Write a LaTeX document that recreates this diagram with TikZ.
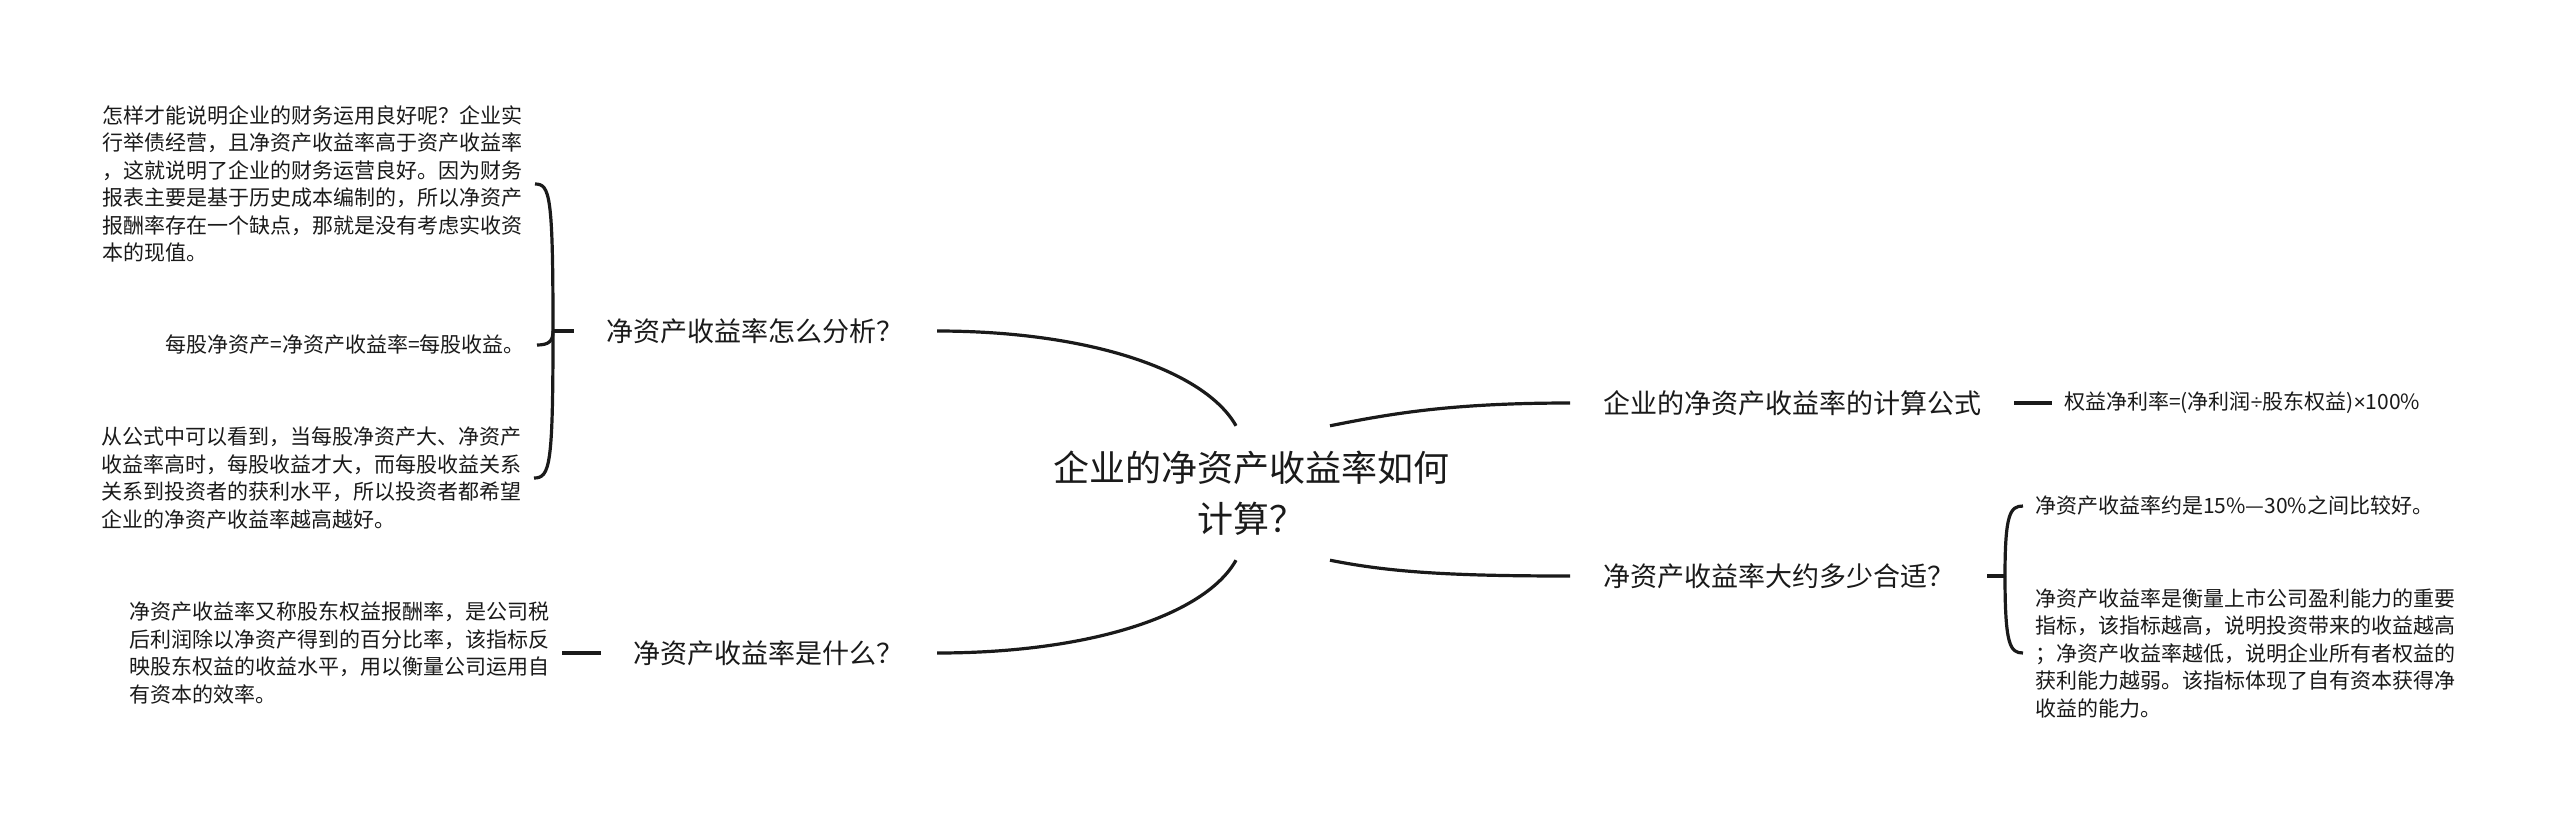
\documentclass[tikz,border=0pt]{standalone}
\usepackage{fontspec}
\setmainfont{Noto Sans CJK SC}
\newfontfamily\latfont{Liberation Sans}
\definecolor{ink}{HTML}{1A1A1A}
\begin{document}
\begin{tikzpicture}[x=1pt,y=-1pt,
  every node/.style={text=ink, inner ysep=0pt},
  conn/.style={draw=ink, line width=3.2pt},
  central/.style={font=\fontsize{36pt}{51pt}\selectfont, align=center, inner xsep=0pt, minimum height=134pt},
  branch/.style={font=\fontsize{27pt}{34pt}\selectfont, inner xsep=33pt},
  leaf/.style={font=\fontsize{21pt}{27.5pt}\selectfont, align=left, inner xsep=12pt}]
\fill[white] (0,0) rectangle (2560,823);
\useasboundingbox (0,0) rectangle (2560,823);

% central
\node[central] (c) at (1251,493) {企业的净资产收益率如何\\计算？};

% branches
\node[branch, anchor=east] (b1) at (937,331) {净资产收益率怎么分析？};
\node[branch, anchor=east] (b2) at (937,653) {净资产收益率是什么？};
\node[branch, anchor=west] (b3) at (1570,403) {企业的净资产收益率的计算公式};
\node[branch, anchor=west] (b4) at (1570,576) {净资产收益率大约多少合适？};

% leaves left
\node[leaf, anchor=east] (l1) at (535,184) {怎样才能说明企业的财务运用良好呢？企业实\\行举债经营，且净资产收益率高于资产收益率\\，这就说明了企业的财务运营良好。因为财务\\报表主要是基于历史成本编制的，所以净资产\\报酬率存在一个缺点，那就是没有考虑实收资\\本的现值。};
\node[leaf, anchor=east] (l2) at (537,345) {每股净资产=净资产收益率=每股收益。};
\node[leaf, anchor=east] (l3) at (534,478) {从公式中可以看到，当每股净资产大、净资产\\收益率高时，每股收益才大，而每股收益关系\\关系到投资者的获利水平，所以投资者都希望\\企业的净资产收益率越高越好。};
\node[leaf, anchor=east] (w1) at (562,653) {净资产收益率又称股东权益报酬率，是公司税\\后利润除以净资产得到的百分比率，该指标反\\映股东权益的收益水平，用以衡量公司运用自\\有资本的效率。};

% leaves right
\node[leaf, anchor=west] (f1) at (2052,403) {权益净利率=(净利润{\latfont ÷}股东权益){\latfont ×}100\%};
\node[leaf, anchor=west] (r1) at (2023,506) {净资产收益率约是15\%—30\%之间比较好。};
\node[leaf, anchor=west] (r2) at (2023,653) {净资产收益率是衡量上市公司盈利能力的重要\\指标，该指标越高，说明投资带来的收益越高\\；净资产收益率越低，说明企业所有者权益的\\获利能力越弱。该指标体现了自有资本获得净\\收益的能力。};

% connectors from central
\draw[conn] (b1.east) .. controls +(153,0) and +(-31,-55) .. ([xshift=-15pt]c.north);
\draw[conn] (b2.east) .. controls +(153,0) and +(-31,55) .. ([xshift=-15pt]c.south);
\draw[conn] ([xshift=79pt]c.north) .. controls +(60,-12) and +(-120,0) .. (b3.west);
\draw[conn] ([xshift=79pt]c.south) .. controls +(60,12) and +(-120,0) .. (b4.west);

% left bracket
\coordinate (lr) at (553,331);
\draw[conn] (b1.west) -- (lr);
\draw[conn] (lr) .. controls (553,195) and (550,184) .. (l1.east);
\draw[conn] (lr) .. controls (553,341) and (549,345) .. (l2.east);
\draw[conn] (lr) .. controls (553,466) and (550,478) .. (l3.east);

% right bracket
\coordinate (rr) at (2005,576);
\draw[conn] (b4.east) -- (rr);
\draw[conn] (rr) .. controls (2005,514) and (2010,506) .. (r1.west);
\draw[conn] (rr) .. controls (2005,645) and (2010,653) .. (r2.west);

% simple ticks
\draw[conn] (b3.east) -- (f1.west);
\draw[conn] (b2.west) -- (w1.east);
\end{tikzpicture}
\end{document}
